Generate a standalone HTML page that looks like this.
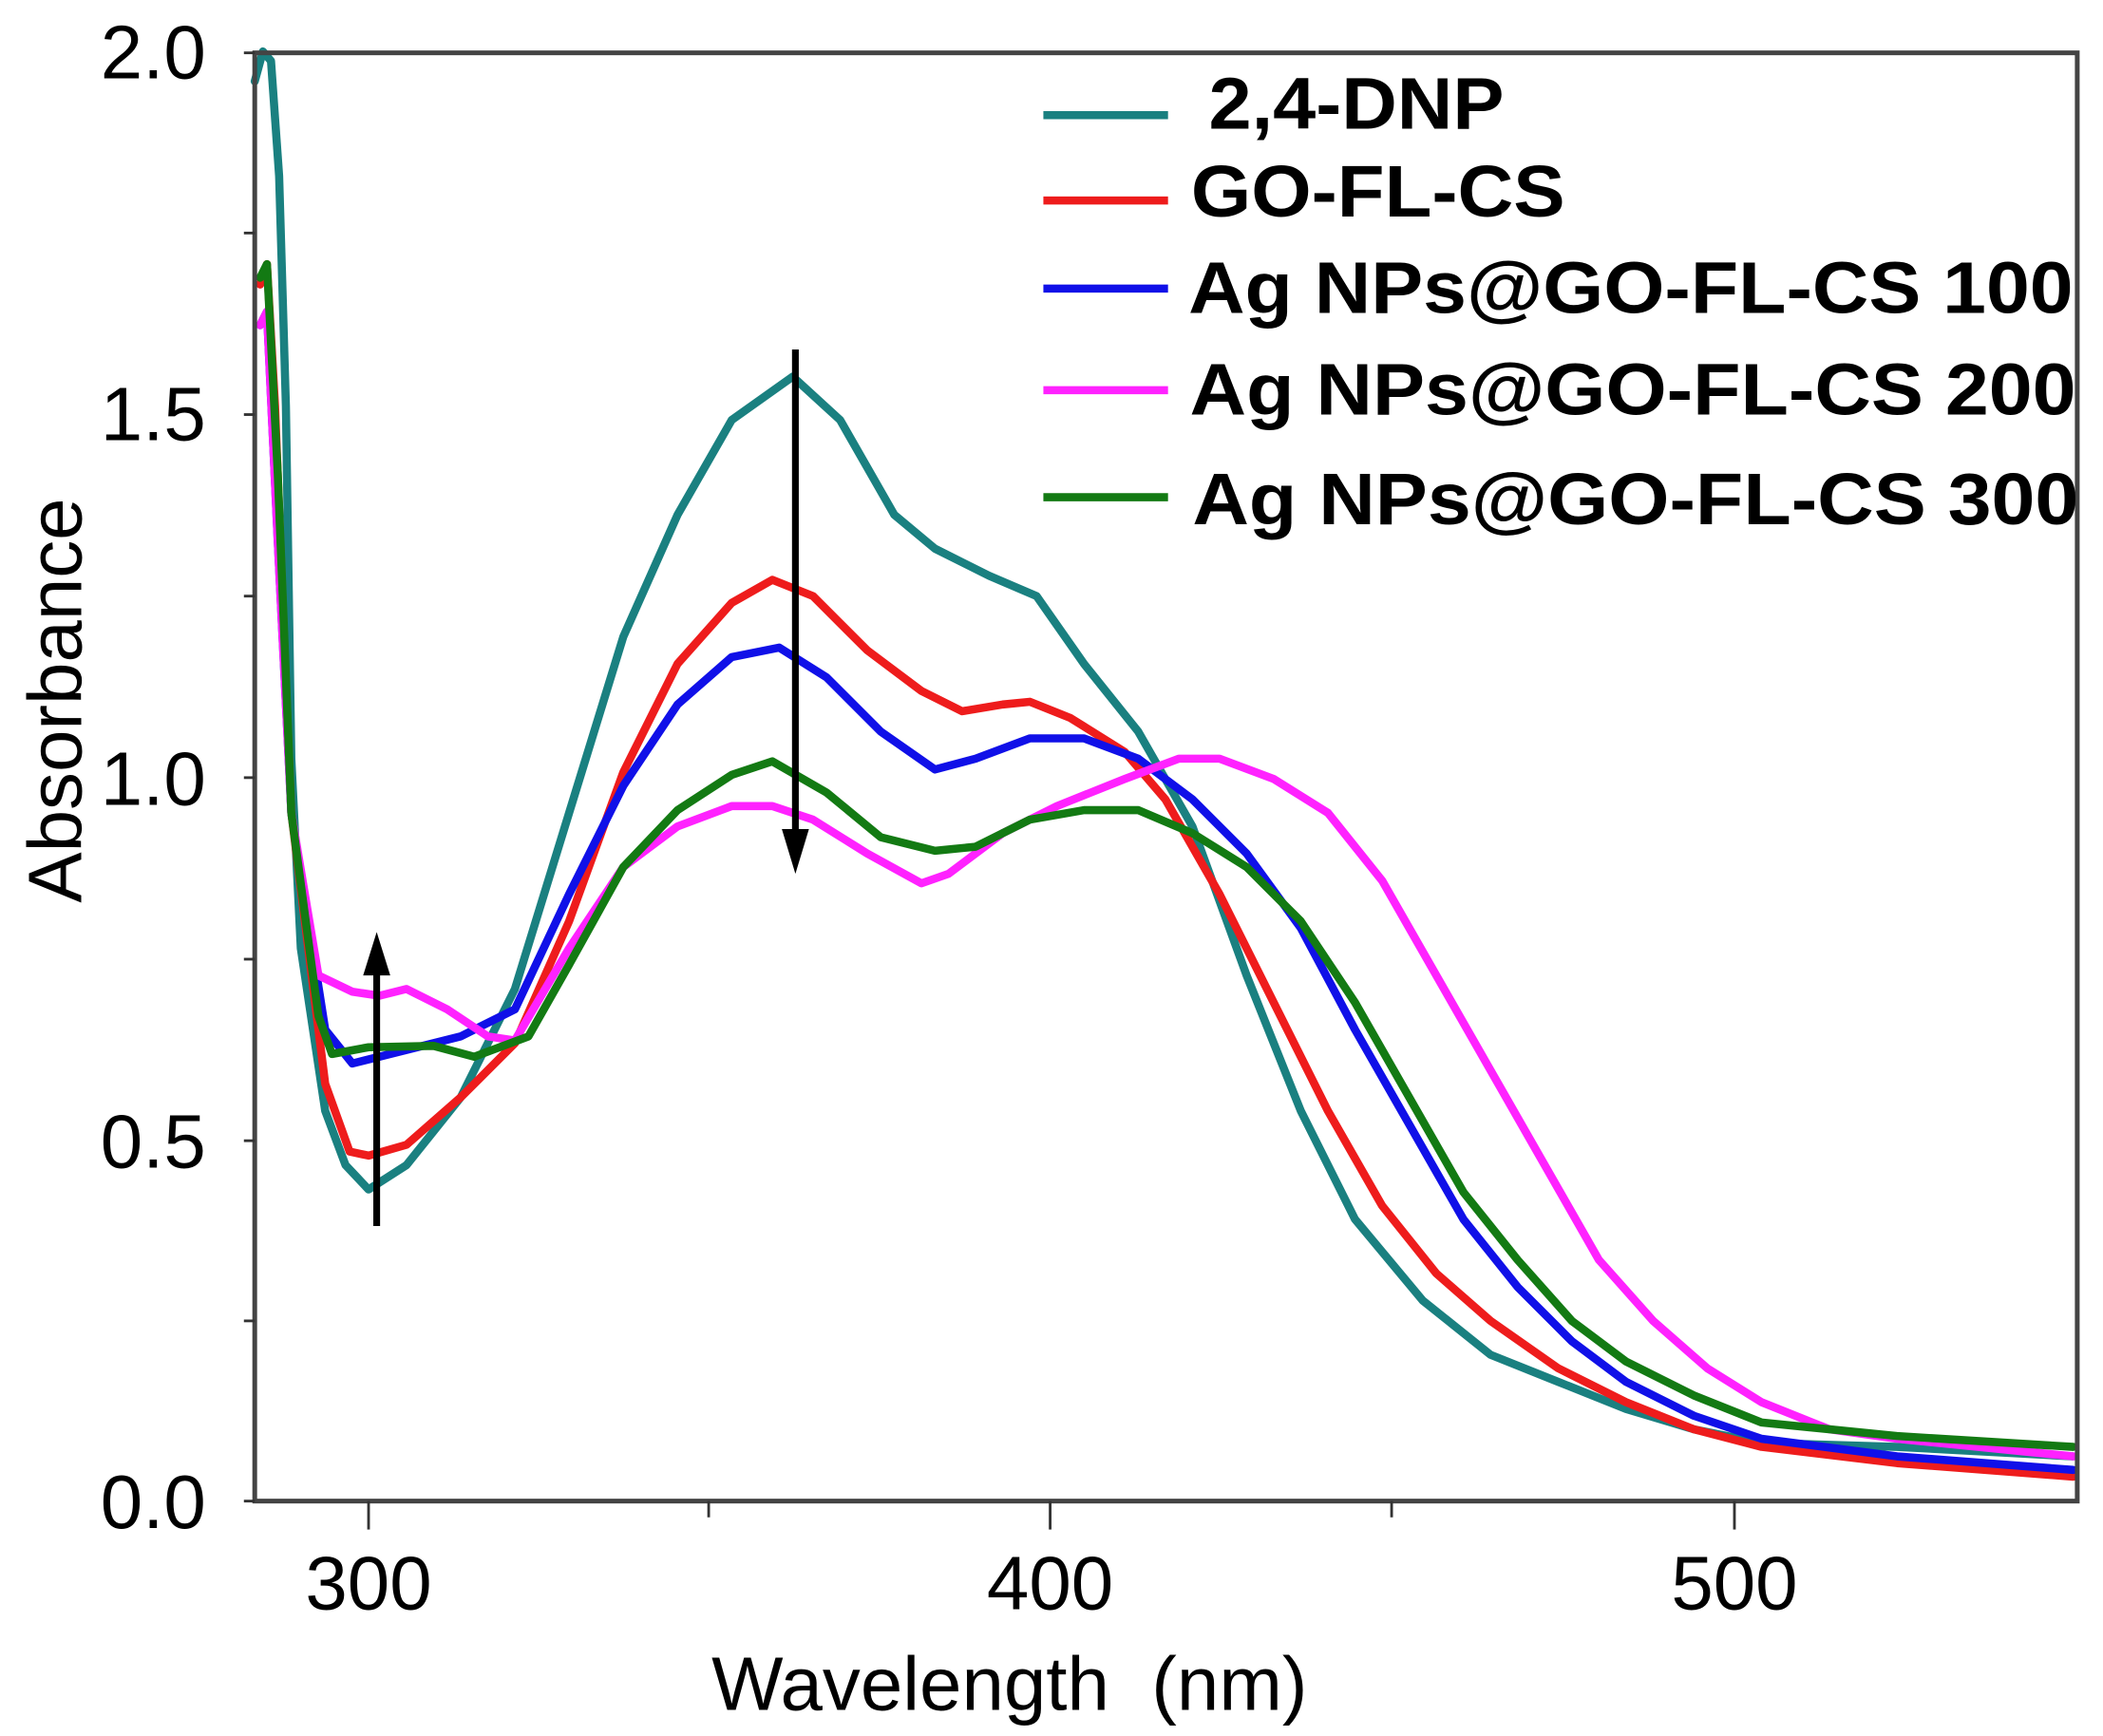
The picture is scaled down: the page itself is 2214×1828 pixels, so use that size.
<!DOCTYPE html>
<html><head><meta charset="utf-8"><style>html,body{margin:0;padding:0;background:#fff}svg{display:block}</style></head>
<body>
<svg width="2214" height="1828" viewBox="0 0 1552 1281.4" xmlns="http://www.w3.org/2000/svg">
<rect width="1552" height="1282" fill="#fff"/>
<g fill="none" stroke-width="6" stroke-linejoin="round" stroke-linecap="round">
<polyline stroke="#1a8080" points="188,60 194,38 200,45 206,130 211,300 215,560 222,700 240,820 255,860 272,878 300,860 340,810 380,730 420,600 460,470 500,380 540,310 585,278 620,310 660,380 690,405 730,425 765,440 800,490 840,540 880,610 920,720 960,820 1000,900 1050,960 1100,1000 1150,1020 1200,1040 1250,1055 1300,1065 1400,1068 1530,1075"/>
<polyline stroke="#ee1c1c" points="192,210 197,195 203,300 210,480 215,600 240,800 258,850 272,853 300,845 340,810 380,770 420,680 460,570 500,490 540,445 570,428 600,440 640,480 680,510 710,525 740,520 760,518 790,530 830,555 860,590 900,660 940,740 980,820 1020,890 1060,940 1100,975 1150,1010 1200,1035 1250,1055 1300,1068 1400,1080 1530,1090"/>
<polyline stroke="#1010e8" points="192,240 197,230 205,400 215,600 240,760 260,785 272,782 300,775 340,765 380,745 420,660 460,580 500,520 540,485 575,478 610,500 650,540 690,568 720,560 760,545 800,545 840,560 880,590 920,630 960,685 1000,760 1040,830 1080,900 1120,950 1160,990 1200,1020 1250,1045 1300,1062 1400,1075 1530,1085"/>
<polyline stroke="#ff22ff" points="192,240 197,230 205,400 215,600 235,720 260,732 280,735 300,730 330,745 360,765 380,768 420,700 460,640 500,610 540,595 570,595 600,605 640,630 680,652 700,645 740,615 780,595 830,575 870,560 900,560 940,575 980,600 1020,650 1060,720 1100,790 1140,860 1180,930 1220,975 1260,1010 1300,1035 1350,1055 1400,1062 1530,1075"/>
<polyline stroke="#137a13" points="192,205 197,195 205,350 215,600 235,750 245,778 272,773 320,772 350,780 390,765 420,712 460,640 500,598 540,572 570,562 610,585 650,618 690,628 720,625 760,605 800,598 840,598 880,615 920,640 960,680 1000,740 1040,810 1080,880 1120,930 1160,975 1200,1005 1250,1030 1300,1050 1400,1060 1530,1068"/>
</g>
<g stroke="#444" stroke-width="3.5" fill="none">
<rect x="188" y="39" width="1345" height="1069"/>
</g>
<g stroke="#333" stroke-width="2">
<line x1="180" y1="39" x2="188" y2="39"/><line x1="180" y1="172" x2="188" y2="172"/><line x1="180" y1="306" x2="188" y2="306"/><line x1="180" y1="440" x2="188" y2="440"/><line x1="180" y1="574" x2="188" y2="574"/><line x1="180" y1="708" x2="188" y2="708"/><line x1="180" y1="842" x2="188" y2="842"/><line x1="180" y1="975" x2="188" y2="975"/><line x1="180" y1="1108" x2="188" y2="1108"/>
<line x1="272" y1="1108" x2="272" y2="1129"/><line x1="523" y1="1108" x2="523" y2="1120"/><line x1="775" y1="1108" x2="775" y2="1129"/><line x1="1027" y1="1108" x2="1027" y2="1120"/><line x1="1280" y1="1108" x2="1280" y2="1129"/>
</g>
<g stroke="#000" stroke-width="5">
<line x1="278" y1="905" x2="278" y2="700"/>
<line x1="587" y1="258" x2="587" y2="630"/>
</g>
<polygon points="278,688 268,720 288,720" fill="#000"/>
<polygon points="587,645 577,612 597,612" fill="#000"/>
<g font-family="Liberation Sans, Arial, sans-serif" font-size="56" fill="#000">
<text x="152" y="58" text-anchor="end">2.0</text>
<text x="152" y="325" text-anchor="end">1.5</text>
<text x="152" y="594" text-anchor="end">1.0</text>
<text x="152" y="862" text-anchor="end">0.5</text>
<text x="152" y="1128" text-anchor="end">0.0</text>
<text x="272" y="1188" text-anchor="middle">300</text>
<text x="775" y="1188" text-anchor="middle">400</text>
<text x="1280" y="1188" text-anchor="middle">500</text>
<text x="745" y="1262" text-anchor="middle" xml:space="preserve">Wavelength  (nm)</text>
<text transform="translate(60,517) rotate(-90)" text-anchor="middle">Absorbance</text>
</g>
<g stroke-width="6">
<line x1="770" y1="85" x2="862" y2="85" stroke="#1a8080"/>
<line x1="770" y1="148" x2="862" y2="148" stroke="#ee1c1c"/>
<line x1="770" y1="213" x2="862" y2="213" stroke="#1010e8"/>
<line x1="770" y1="288" x2="862" y2="288" stroke="#ff22ff"/>
<line x1="770" y1="367" x2="862" y2="367" stroke="#137a13"/>
</g>
<g font-family="Liberation Sans, Arial, sans-serif" font-size="54" font-weight="bold" fill="#000">
<text x="892" y="95" textLength="218" lengthAdjust="spacingAndGlyphs">2,4-DNP</text>
<text x="879" y="160" textLength="276" lengthAdjust="spacingAndGlyphs">GO-FL-CS</text>
<text x="877" y="231" textLength="653" lengthAdjust="spacingAndGlyphs">Ag NPs@GO-FL-CS 100</text>
<text x="878" y="306" textLength="654" lengthAdjust="spacingAndGlyphs">Ag NPs@GO-FL-CS 200</text>
<text x="880" y="387" textLength="654" lengthAdjust="spacingAndGlyphs">Ag NPs@GO-FL-CS 300</text>
</g>
</svg>
</body></html>
